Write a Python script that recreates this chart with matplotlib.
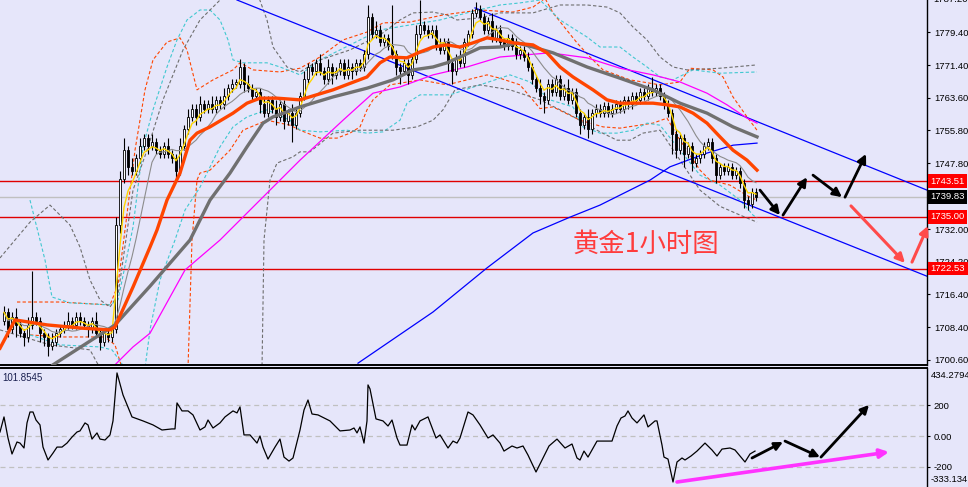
import numpy as np
import pandas as pd
import matplotlib.pyplot as plt

plt.rcParams['font.family'] = ['Liberation Sans', 'DejaVu Sans']

BG = '#e6e6fa'

# === 1) Hourly gold candles (close + wick sizes read off the chart) ===
first_open = 1710.0
close = [
    1712, 1708, 1711, 1709, 1707, 1706, 1709, 1711, 1710, 1707,
    1706, 1704, 1705, 1707, 1708, 1709, 1710, 1709, 1711, 1710,
    1709, 1708, 1710, 1707, 1705, 1707, 1706, 1708, 1733, 1744,
    1751, 1747, 1746, 1749, 1752, 1754, 1752, 1753, 1751, 1750,
    1752, 1750, 1749, 1746, 1752, 1756, 1759, 1761, 1759, 1762,
    1761, 1762, 1761, 1763, 1762, 1764, 1766, 1767, 1767, 1771,
    1767, 1766, 1764, 1765, 1762, 1760, 1763, 1761, 1759, 1762,
    1758, 1760, 1757, 1760, 1764, 1768, 1771, 1770, 1772, 1770,
    1768, 1771, 1769, 1770, 1772, 1769, 1771, 1770, 1772, 1771,
    1774, 1783, 1779, 1780, 1777, 1778, 1776, 1774, 1771, 1770,
    1772, 1769, 1773, 1779, 1781, 1780, 1779, 1780, 1776, 1775,
    1777, 1772, 1770, 1773, 1772, 1777, 1779, 1784, 1785, 1783,
    1780, 1782, 1778, 1780, 1777, 1776, 1778, 1776, 1774, 1775,
    1773.5, 1771, 1768, 1766, 1764, 1763, 1767, 1765, 1768, 1764,
    1766, 1763, 1765, 1760, 1757, 1759, 1756, 1760, 1761, 1760,
    1761.5, 1760, 1761, 1762, 1761, 1763, 1762, 1764, 1763, 1765,
    1764, 1766, 1765, 1766, 1764, 1762, 1760, 1755, 1751, 1754,
    1750, 1752, 1748, 1749, 1750, 1752, 1753, 1749, 1745, 1747,
    1746, 1747, 1745, 1746, 1743, 1739, 1738, 1741, 1739.83,
]
up_wick = [
    1.5, 1, 1, 2, 1, 1, 2, 11, 1, 1,
    1, 1, 2, 1, 1, 1, 2, 1, 1, 1,
    1, 1, 1, 2, 1, 1, 1, 1, 2, 2,
    3, 1, 2, 1, 2, 1, 1, 2, 1, 1,
    1, 2, 1, 1, 2, 1, 2, 1, 1, 2,
    1, 1, 2, 1, 1, 2, 1, 1, 1, 2,
    1, 2, 1, 1, 1, 2, 1, 1, 2, 1,
    1, 1, 2, 1, 1, 2, 1, 1, 1, 2,
    1, 2, 1, 1, 1, 1, 2, 1, 1, 1,
    1, 3, 1, 2, 1, 1, 1, 10, 1, 1,
    1, 1, 1, 2, 6, 1, 1, 1, 1, 2,
    1, 1, 1, 1, 2, 1, 1, 1, 1.5, 1,
    1, 1, 2, 1, 1, 1, 1, 1, 2, 1,
    1, 1, 1, 1, 2, 1, 1, 1, 1, 1,
    1, 2, 1, 1, 1, 1, 2, 1, 1, 1,
    1, 1, 1, 1, 1, 1, 1, 1, 1, 1,
    1, 1, 2.5, 1, 1, 1, 1, 1, 1, 1,
    1, 1, 1, 1, 1, 1, 1, 1, 1, 1,
    1, 1, 1, 1, 1, 1, 1, 1, 1,
]
dn_wick = [
    1, 2, 1, 3, 1, 2, 1, 1, 1, 2,
    2, 2.5, 1, 1, 1, 1, 1, 1, 1, 1,
    1, 2, 1, 1, 2, 1, 1, 1, 1, 2,
    1, 2, 1, 1, 1, 1, 2, 1, 1, 1,
    1, 1, 1, 2, 1, 1, 1, 1, 2, 1,
    1, 1, 1, 1, 1, 1, 1, 1, 1, 1,
    2, 1, 1, 1, 2, 1, 1, 1, 2, 1,
    2, 1, 4, 1, 1, 1, 1, 1, 1, 1,
    1, 1, 2, 1, 1, 1, 1, 2, 1, 1,
    1, 1, 1, 1, 1, 1, 1, 1, 2, 3,
    1, 2, 1, 1, 1, 1, 1, 1, 1, 1,
    1, 2, 3, 1, 1, 1, 1, 1, 1, 1,
    1, 1, 1, 1, 1, 1, 1, 1, 1, 1,
    1, 1, 1, 1, 2, 3, 1, 1, 1, 1,
    1, 1, 1, 1, 2, 1, 2, 1, 1, 1,
    1, 1, 1, 1, 1, 1, 1, 1, 1, 1,
    1, 1, 1, 1, 1, 1, 1, 5, 2, 1,
    3, 1, 2, 1, 1, 1, 1, 1, 2, 1,
    1, 1, 1, 1, 1, 2, 1.5, 1, 1,
]

# === 2) Slow moving averages (bar index, price) ===
orange_x = [-1, 2.75, 10.75, 19.75, 26.5, 27.75, 32.25, 36.5, 38.25, 40.75, 44, 46.5, 48.25, 51.5,
            57.25, 60.75, 64, 68.25, 74, 82.25, 90.75, 94, 96.5, 100.75, 104, 107.25, 110.75, 114,
            117.25, 120.75, 124, 127.25, 132.25, 135.75, 139, 142.25, 147.25, 150.75, 154, 162.25,
            165.75, 169, 172.25, 175.75, 179, 182.25, 185.75, 188.25]
orange_y = [1703.4, 1710.2, 1709.0, 1708.2, 1707.8, 1708.5, 1718.1, 1727.7, 1731.8, 1739.0, 1745.5,
            1753.4, 1755.1, 1756.6, 1759.9, 1762.3, 1763.5, 1763.5, 1763.1, 1765.5, 1768.6, 1772.0,
            1773.4, 1773.2, 1774.6, 1775.8, 1776.3, 1775.8, 1776.8, 1778.0, 1777.5, 1776.8, 1776.3,
            1774.4, 1771.0, 1768.6, 1765.5, 1763.1, 1762.3, 1762.3, 1761.9, 1761.4, 1759.9, 1757.5,
            1754.2, 1751.0, 1748.6, 1746.2]
gray_x = [12.25, 26.5, 27.75, 36.5, 46.5, 51.5, 56.5, 60.75, 64.75, 67.25, 70.75, 74, 82.25, 90.75,
          97.25, 102.25, 107.25, 110.75, 114, 119, 124, 128.25, 132.25, 137.25, 145.75, 154, 162.25,
          169, 175.75, 182.25, 188.25]
gray_y = [1699.4, 1708.2, 1709.0, 1718.3, 1729.4, 1739.0, 1745.5, 1751.8, 1757.5, 1759.0, 1760.2,
          1761.4, 1763.8, 1765.9, 1767.9, 1770.3, 1771.0, 1772.0, 1773.4, 1775.6, 1775.8, 1776.8,
          1775.8, 1774.4, 1771.0, 1768.3, 1765.5, 1762.3, 1759.9, 1756.6, 1754.2]
magenta_x = [27.75, 32.25, 36.5, 45.25, 54, 64, 74, 77.25, 84.75, 89, 92.25, 99, 107.25, 115.75, 124,
             136.5, 145.75, 154, 162.25, 169, 175.75, 180.75, 185.75, 188.25]
magenta_y = [1699.4, 1703.7, 1707.0, 1722.2, 1729.4, 1739.0, 1748.6, 1751.5, 1758.2, 1761.9, 1764.7,
             1766.2, 1769.1, 1771.0, 1773.4, 1774.4, 1773.2, 1770.7, 1769.1, 1767.4, 1764.7, 1761.9,
             1758.7, 1757.5]
blue_x = [88.5, 107.25, 120.75, 132.25, 141.5, 149, 161.5, 166.5, 175.75, 182.25, 188.25]
blue_y = [1699.8, 1712.1, 1722.7, 1731.1, 1734.9, 1737.8, 1743.8, 1747.0, 1750.3, 1752.2, 1752.7]

# === 3) Envelope bands (dashed) ===
ou_x = [3.25, 14, 26.5, 28.5, 30.25, 32.75, 35.25, 37.25, 40.75, 44, 45.75, 47, 48.25, 52.25, 57.25,
        59, 62.25, 69, 74, 79, 84.75, 90.75, 94.75, 101.5, 109.75, 119, 127.25, 132.25, 135.25,
        137.25, 143.25, 146.5, 149.75, 156.5, 164, 169, 171.5, 177.25, 179.75, 182.25, 185.75, 188.25]
ou_y = [1714.5, 1714.5, 1713.8, 1718.6, 1731.8, 1751.0, 1765.5, 1772.7, 1777.0, 1778.0, 1775.1,
        1770.3, 1765.5, 1767.9, 1770.3, 1772.0, 1770.3, 1769.8, 1770.7, 1773.4, 1777.5, 1779.4,
        1781.6, 1781.8, 1783.5, 1784.7, 1784.2, 1785.4, 1787.5, 1784.0, 1776.8, 1773.4, 1770.3,
        1767.9, 1766.7, 1767.4, 1770.7, 1770.3, 1768.6, 1763.8, 1759.0, 1755.8]
ol_x = [6.5, 14, 25.25, 27.75, 29.5, 46, 47, 48.25, 49, 51.5, 56.5, 59.75, 65.75, 71.5, 74, 79,
        83.25, 86.5, 89, 90.75, 92.25, 96.5, 104, 110.75, 115.75, 120.75, 124, 129, 134, 137.25,
        144, 149.75, 154, 162.25, 165.75, 169, 174, 176.5, 181.5, 186.5, 188.25]
ol_y = [1706.6, 1706.1, 1706.1, 1704.2, 1698.6, 1698.6, 1729.4, 1743.8, 1745.5, 1746.2, 1751.0,
        1755.8, 1758.2, 1757.0, 1755.8, 1753.9, 1753.9, 1755.1, 1756.6, 1760.7, 1763.1, 1766.7,
        1767.9, 1766.7, 1767.9, 1769.1, 1768.3, 1766.7, 1761.0, 1761.4, 1758.2, 1756.6, 1756.3,
        1757.5, 1758.7, 1753.4, 1746.2, 1743.8, 1742.6, 1739.7, 1739.0]
cu_x = [6.5, 10.25, 12, 16.5, 26.5, 28.5, 32.25, 34.75, 37.25, 40.75, 43.25, 45.75, 49, 51.5, 54,
        56, 57.25, 59.75, 65.75, 69, 72.25, 74, 79, 86.5, 94, 101.5, 109, 116.5, 124, 129, 134,
        139, 145.75, 149, 154, 157.25, 160.75, 164, 167.25, 172.25, 179, 188.25]
cu_y = [1739.0, 1724.6, 1715.7, 1714.3, 1713.8, 1715.0, 1732.5, 1751.8, 1760.7, 1771.0, 1777.5,
        1782.3, 1784.7, 1784.7, 1782.3, 1777.5, 1772.7, 1772.0, 1772.0, 1771.0, 1769.8, 1769.1,
        1772.7, 1776.3, 1779.9, 1781.1, 1782.3, 1784.2, 1785.9, 1786.4, 1787.1, 1782.3, 1778.2,
        1775.8, 1775.8, 1773.4, 1771.0, 1768.6, 1767.9, 1770.3, 1769.5, 1769.8]
cl_x = [6.5, 14, 24, 27, 30.25, 35.25, 36.5, 39, 42.75, 45.25, 49, 54, 57.25, 60.75, 65.75, 71.5,
        74, 79, 85.75, 90.75, 94.75, 99, 100.75, 104, 111.5, 119, 126.5, 131.5, 136.5, 142.25,
        144.75, 149, 153.25, 157.25, 160.75, 164, 169, 174, 179, 184, 187.25, 188.25]
cl_y = [1706.6, 1704.2, 1703.7, 1703.0, 1698.6, 1698.6, 1707.8, 1719.8, 1729.4, 1736.6, 1742.1,
        1751.8, 1756.6, 1759.0, 1760.7, 1758.2, 1755.8, 1755.4, 1755.8, 1755.1, 1755.4, 1758.2,
        1762.3, 1764.3, 1764.3, 1766.7, 1769.1, 1767.4, 1763.1, 1761.4, 1756.6, 1755.1, 1755.1,
        1755.8, 1757.5, 1757.0, 1751.0, 1745.0, 1742.6, 1739.0, 1735.4, 1734.7]
gu_x = [-1, 2.75, 6.5, 11.5, 16.5, 19, 21.5, 24, 26.5, 28.5, 32.25, 35.75, 39.75, 44.75, 49, 52.25,
        55.25, 63.5, 65.75, 67.25, 70.75, 74, 79, 86.5, 94, 99, 102.25, 107.25, 110.75, 113.25,
        119, 124, 132.25, 139, 145.75, 150.75, 154, 157.25, 160.75, 164, 167.25, 170.75, 179, 188.25]
gu_y = [1725.1, 1729.4, 1733.7, 1737.8, 1733.0, 1727.7, 1719.8, 1715.0, 1713.3, 1716.2, 1741.4,
        1751.0, 1763.1, 1775.1, 1782.3, 1785.4, 1788.3, 1788.3, 1782.3, 1775.8, 1771.0, 1769.8,
        1772.7, 1775.1, 1778.7, 1782.3, 1784.0, 1784.2, 1783.5, 1782.3, 1782.8, 1784.0, 1784.0,
        1785.9, 1785.9, 1785.4, 1784.0, 1780.6, 1777.5, 1773.4, 1771.0, 1770.3, 1770.7, 1771.5]
gl_x = [-1, 11.5, 21.5, 24, 64.5, 65, 66.5, 68.25, 72.25, 74, 76.5, 82.25, 89, 97.25, 103.25,
        107.25, 109.75, 112.75, 119, 126.5, 134, 141.5, 149, 153.25, 156.5, 159.75, 164, 169, 174,
        179, 184, 188.25]
gl_y = [1707.8, 1704.2, 1703.0, 1698.6, 1698.6, 1729.4, 1743.8, 1747.9, 1749.4, 1750.6, 1750.6,
        1755.1, 1755.8, 1755.8, 1756.6, 1758.2, 1760.7, 1765.5, 1766.7, 1765.5, 1763.1, 1759.5,
        1755.4, 1753.4, 1753.4, 1755.1, 1755.8, 1748.6, 1741.4, 1737.5, 1735.4, 1733.7]

# trend channel anchors, horizontal levels
chan_low = ([58.25, 230.75], [1787.1, 1720.7])
chan_high = ([117.75, 230.75], [1785.2, 1741.4])
red_levels = [1743.51, 1735.00, 1722.53]
last_price = 1739.83
price_ticks = [1700.6, 1708.4, 1716.4, 1724.2, 1732.0, 1747.8, 1755.8, 1763.6, 1771.4, 1779.4]

# === 4) CCI oscillator ===
cci_x = [-1, 0, 1, 2, 3.25, 4, 5, 5.75, 6.5, 7.25, 8, 9, 9.75, 11, 12.25, 13.25, 14.5, 15.75, 17,
         18.25, 19, 20.25, 21, 22, 23.25, 24, 25.25, 26.5, 27.25, 28.25, 29.75, 32, 34.75, 37.25,
         39.5, 42, 42.75, 43.25, 44.5, 46, 47.25, 49, 50.25, 51, 52.25, 54, 55.25, 57.25, 58.25, 59,
         60, 61.5, 63.25, 64, 64.75, 66, 67.75, 69, 70, 71.25, 72.25, 74, 75, 76, 77, 78.5, 81.5,
         84, 86.5, 87.5, 88.25, 89, 90, 90.75, 91, 91.5, 93, 94.75, 96, 97, 98.25, 99, 100.75, 102,
         102.75, 104, 106, 108, 109, 111, 112.25, 113.25, 114, 116, 117.25, 119, 121, 122.25, 124,
         125, 127, 128.25, 129.75, 131, 133, 134.75, 136.25, 138.25, 140.25, 142, 143.25, 144, 145,
         146, 148.25, 152, 153.25, 154.25, 155.25, 156, 157, 158.25, 160, 161, 162.75, 163.25,
         164.5, 165, 166, 167.25, 168.25, 169.5, 170.25, 171.75, 173.25, 175.25, 177, 178.25,
         179.5, 181.5, 182.75, 185.25, 186.5, 187.75]
cci_v = [26, 124, -13, -117, -39, -46, -78, 85, 156, 156, 104, 72, -72, -156, -111, -72, -72, -46,
         -7, 26, 33, 85, 72, -20, 20, -20, -26, 7, 98, 410, 267, 124, 98, 72, 39, 46, 46, 215, 163,
         163, 137, 39, 59, 104, 52, 85, 124, 163, 150, 189, 7, 7, -46, 0, -72, -150, -72, -20, -137,
         -163, -143, 39, 169, 234, 143, 137, 98, 33, 39, 52, 20, 59, -46, 98, 332, 306, 111, 98, 65,
         104, -13, -59, -59, 72, 39, 98, 124, -13, 7, -78, -33, -46, -13, 156, 137, 72, -13, 7, -46,
         -98, -65, -78, -65, -124, -234, -143, -65, -20, -78, -52, -143, -156, -98, -137, -33, -33,
         65, 117, 130, 163, 117, 85, 137, 59, 98, 98, -59, -137, -150, -299, -169, -143, -156, -130,
         -98, -46, -91, -130, -85, -78, -91, -169, -117, -98]
cci_levels = [200, 0, -200]

# hand-drawn forecast arrows: (start, end)
main_black = [((189, 1741.4), (194, 1735.4)), ((194.75, 1735.4), (200.75, 1744.5)),
              ((202.25, 1745.0), (209.5, 1739.7)), ((210.25, 1739.7), (215.5, 1750.1))]
main_red = [((211.75, 1737.6), (225.25, 1723.9)), ((227, 1724.1), (231, 1732.8))]
osc_black = [((187, -143), (194.75, -39)), ((195.25, -33), (204, -137)), ((204.25, -137), (216.25, 202))]
osc_magenta = [((168.25, -299), (221.25, -104))]

# === 5) Figure ===
fig = plt.figure(figsize=(9.68, 4.87), dpi=100, facecolor=BG)
W = 927 / 968
ax = fig.add_axes([0, 1 - 365 / 487, W, 365 / 487], facecolor=BG)
ax2 = fig.add_axes([0, 0, W, 1 - 368 / 487], facecolor=BG)

o = np.array([first_open] + close[:-1])
c = np.array(close)
hi = np.maximum(o, c) + np.array(up_wick)
lo = np.minimum(o, c) - np.array(dn_wick)
idx = np.arange(len(c))
bull = c >= o

dash = (0, (3, 2))
for bx, by, col in [(ou_x, ou_y, '#ff4500'), (ol_x, ol_y, '#ff4500'), (cu_x, cu_y, '#40c8d0'),
                    (cl_x, cl_y, '#40c8d0'), (gu_x, gu_y, '#6e6e6e'), (gl_x, gl_y, '#6e6e6e')]:
    ax.plot(bx, by, color=col, lw=0.8, ls=dash, zorder=2)

for lv in red_levels:
    ax.axhline(lv, color='#e00000', lw=1.0, zorder=1.5)
ax.axhline(last_price, color='#c0c0c0', lw=1.0, zorder=1.5)

ax.plot(*chan_low, color='#0000ff', lw=0.9, zorder=2.2)
ax.plot(*chan_high, color='#0000ff', lw=0.9, zorder=2.2)
ax.plot(blue_x, blue_y, color='#0000ff', lw=0.9, zorder=2.2)
ax.plot(magenta_x, magenta_y, color='#ff00ff', lw=0.9, zorder=2.3)

ax.vlines(idx, lo, hi, color='black', lw=0.8, zorder=3)
ax.bar(idx[bull], np.maximum(c - o, 0.3)[bull], bottom=o[bull], width=0.65,
       color='white', edgecolor='black', lw=0.6, zorder=3.1)
ax.bar(idx[~bull], (o - c)[~bull], bottom=c[~bull], width=0.65,
       color='black', edgecolor='black', lw=0.6, zorder=3.1)

s = pd.Series(c)
ax.plot(idx, s.rolling(10, min_periods=1).mean(), color='#8c8c8c', lw=0.8, zorder=3.5)
ax.plot(idx, s.ewm(span=4, adjust=False).mean(), color='#ffd700', lw=1.0, zorder=3.6)
ax.plot(gray_x, gray_y, color='#707070', lw=2.4, zorder=4)
ax.plot(orange_x, orange_y, color='#ff4500', lw=2.4, zorder=4.1)

ax.set_xlim(-1, 230.75)
ax.set_ylim(1787.1 - 365 / 4.16, 1787.1)

# price scale on the right
ax.yaxis.tick_right()
ax.set_yticks(price_ticks)
ax.set_yticklabels([f"{t:.2f}" for t in price_ticks])
ax.tick_params(axis='y', length=2.5, pad=2.5, labelsize=6.8, colors='black')
ax.set_xticks([])
for sp in ['left', 'top']:
    ax.spines[sp].set_visible(False)
ax.spines['right'].set_linewidth(1.0)
ax.spines['bottom'].set_linewidth(1.4)

yt = ax.get_yaxis_transform()
ax.text(1.007, 1787.2, "1787.20", transform=yt, fontsize=6.8, va='center', ha='left')
for lv in red_levels:
    ax.text(1.004, lv, f"{lv:.2f}", transform=yt, fontsize=6.8, va='center', ha='left',
            color='white', zorder=6,
            bbox=dict(boxstyle='square,pad=0.25', fc='#ff0000', ec='none'))
ax.text(1.004, last_price, f"{last_price:.2f}", transform=yt, fontsize=6.8, va='center',
        ha='left', color='white', zorder=6,
        bbox=dict(boxstyle='square,pad=0.25', fc='black', ec='none'))

ax.text(160.5, 1728.4, "黄金1小时图", color='#ff3c3c', fontsize=19, ha='center', va='center',
        family=['Noto Sans CJK SC', 'DejaVu Sans'], zorder=5)


def arrow(a, p0, p1, color, lw, ms):
    a.annotate('', xy=p1, xytext=p0, annotation_clip=False, zorder=7,
               arrowprops=dict(arrowstyle='-|>', color=color, lw=lw, mutation_scale=ms,
                               shrinkA=0, shrinkB=0))


for p0, p1 in main_black:
    arrow(ax, p0, p1, 'black', 2.0, 13)
for p0, p1 in main_red:
    arrow(ax, p0, p1, '#ff4a4a', 2.2, 13)

# === 6) CCI panel ===
for lv in cci_levels:
    ax2.axhline(lv, color='#c0c0c0', lw=0.9, ls=(0, (4, 3)), zorder=1)
ax2.plot(cci_x, cci_v, color='black', lw=0.9, zorder=3)
for p0, p1 in osc_black:
    arrow(ax2, p0, p1, 'black', 2.0, 12)
for p0, p1 in osc_magenta:
    arrow(ax2, p0, p1, '#ff33ff', 2.6, 13)

ax2.set_xlim(-1, 230.75)
ax2.set_ylim(-331.5, 442)
ax2.yaxis.tick_right()
ax2.set_yticks(cci_levels)
ax2.set_yticklabels(['200', '0.00', '-200'])
ax2.tick_params(axis='y', length=2.5, pad=2, labelsize=6.8, colors='black')
ax2.set_xticks([])
for sp in ['left', 'bottom']:
    ax2.spines[sp].set_visible(False)
ax2.spines['top'].set_linewidth(1.4)
ax2.spines['right'].set_linewidth(1.0)
ax2.text(1.004, 0.94, "434.2794", transform=ax2.transAxes, fontsize=6.8, va='center', ha='left')
ax2.text(1.004, 0.06, "-333.134", transform=ax2.transAxes, fontsize=6.8, va='center', ha='left')
ax2.text(0.002, 0.92, "101.8545", transform=ax2.transAxes, fontsize=7, va='center', ha='left',
         color='#1a2050')

fig.savefig("out.png", dpi=100, facecolor=BG)
